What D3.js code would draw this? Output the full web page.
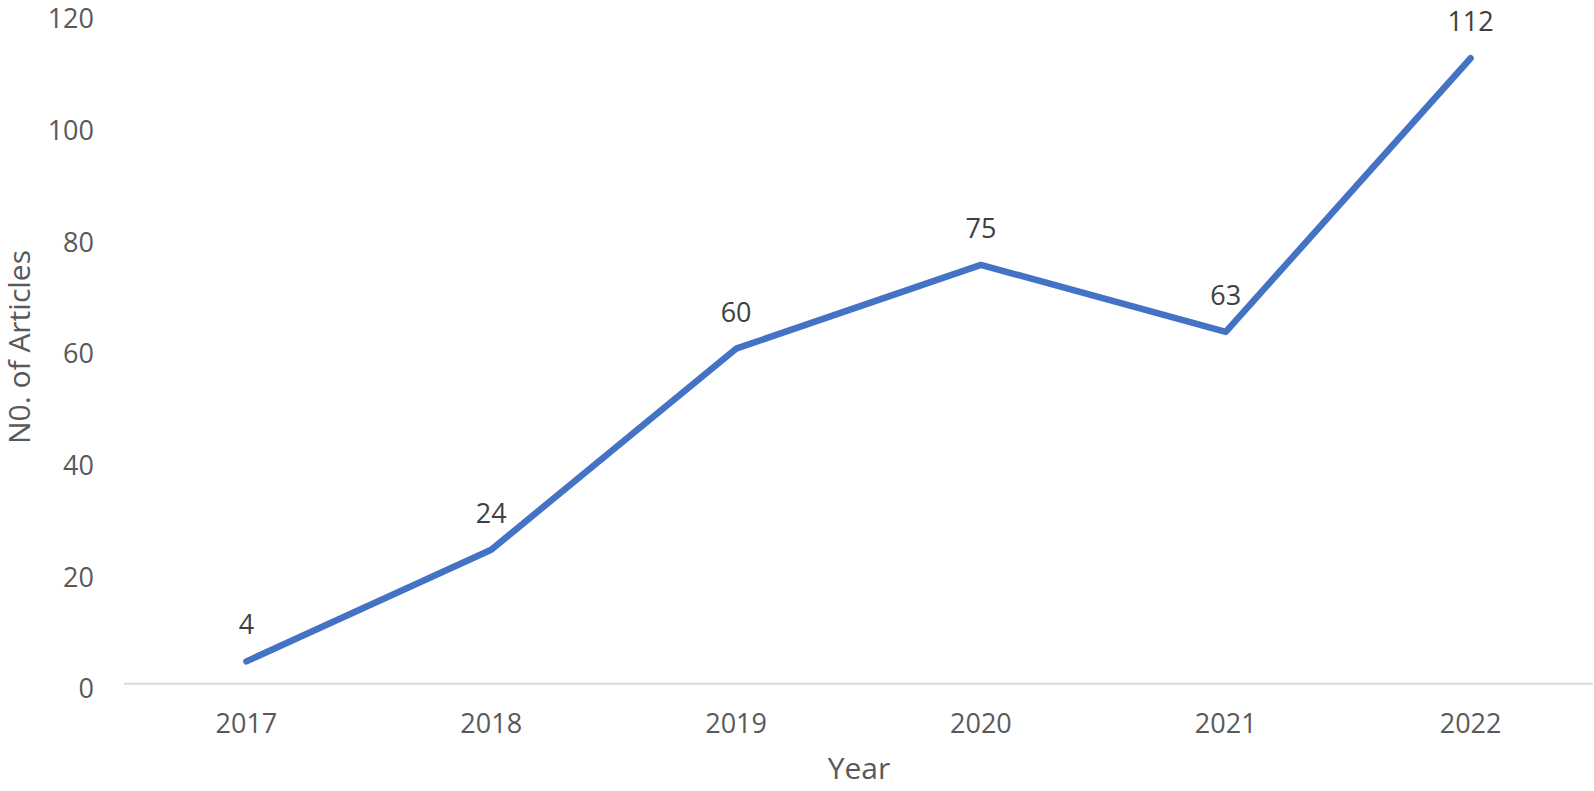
<!DOCTYPE html>
<html>
<head>
<meta charset="utf-8">
<script src="https://cdn.jsdelivr.net/npm/d3@7"></script>
<style>
  body { margin: 0; background: #fff; }
  svg { display: block; font-family: "Open Sans", sans-serif; }
</style>
</head>
<body>
<div id="chart"></div>
<script>
// chart data
var years = ["2017", "2018", "2019", "2020", "2021", "2022"];
var articles = [4, 24, 60, 75, 63, 112];
var yTicks = [0, 20, 40, 60, 80, 100, 120];

var width = 1594;
var height = 791;
var plotLeft = 124, plotRight = 1593, plotTop = 13.6, plotBottom = 683.7;

var svg = d3.select("#chart").append("svg")
    .attr("width", width)
    .attr("height", height);

var x = d3.scaleBand().domain(years).range([plotLeft, plotRight]);
var y = d3.scaleLinear().domain([0, 120]).range([plotBottom, plotTop]);

// baseline
svg.append("line")
    .attr("x1", plotLeft).attr("x2", plotRight)
    .attr("y1", y(0)).attr("y2", y(0))
    .attr("stroke", "#d9d9d9")
    .attr("stroke-width", 2);

// y tick labels
svg.append("g").selectAll("text")
    .data(yTicks)
    .enter().append("text")
    .attr("x", 94)
    .attr("y", function (d) { return y(d) + 14.6; })
    .attr("text-anchor", "end")
    .attr("fill", "#595959")
    .attr("font-size", 27)
    .text(function (d) { return d; });

// x tick labels
svg.append("g").selectAll("text")
    .data(years)
    .enter().append("text")
    .attr("x", function (d) { return x(d) + x.bandwidth() / 2; })
    .attr("y", 732.7)
    .attr("text-anchor", "middle")
    .attr("fill", "#595959")
    .attr("font-size", 27)
    .text(function (d) { return d; });

// line
var line = d3.line()
    .x(function (d, i) { return x(years[i]) + x.bandwidth() / 2; })
    .y(function (d) { return y(d); });

svg.append("path")
    .datum(articles)
    .attr("d", line)
    .attr("fill", "none")
    .attr("stroke", "#4472c4")
    .attr("stroke-width", 6.5)
    .attr("stroke-linecap", "round")
    .attr("stroke-linejoin", "round");

// data labels
svg.append("g").selectAll("text")
    .data(articles)
    .enter().append("text")
    .attr("x", function (d, i) { return x(years[i]) + x.bandwidth() / 2; })
    .attr("y", function (d) { return y(d) - 27; })
    .attr("text-anchor", "middle")
    .attr("fill", "#404040")
    .attr("font-size", 27)
    .text(function (d) { return d; });

// axis titles
svg.append("text")
    .attr("x", 859)
    .attr("y", 779.3)
    .attr("text-anchor", "middle")
    .attr("fill", "#595959")
    .attr("font-size", 30)
    .text("Year");

svg.append("text")
    .attr("transform", "translate(30,347) rotate(-90)")
    .attr("text-anchor", "middle")
    .attr("fill", "#595959")
    .attr("font-size", 30)
    .text("N0. of Articles");
</script>
</body>
</html>
